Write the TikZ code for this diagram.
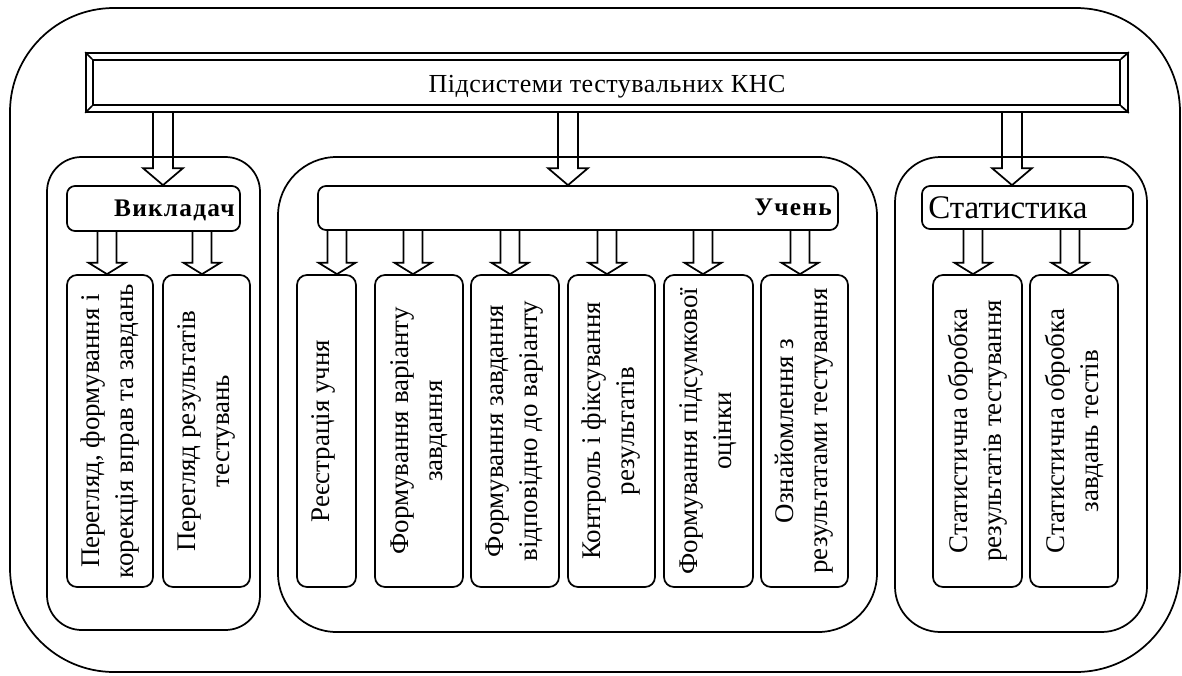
\documentclass[tikz,border=0pt]{standalone}
\usepackage{fontspec}
\setmainfont{Liberation Serif}
\newfontfamily\headfont[LetterSpace=2]{Liberation Serif}
\newfontfamily\rolefont[LetterSpace=5]{Liberation Serif}
\usepackage{graphicx}
\usetikzlibrary{fit,calc}

\newcommand\vtext[1]{\rotatebox{90}{\parbox{300pt}{\centering\fontsize{20.2pt}{25.5pt}\selectfont #1}}}
% block arrow: from, to, shaft half width, head half width, head length
\newcommand\blockarrow[5]{%
  \draw[ln] let \p1=(#1), \p2=(#2) in
    (\x1-#3,\y1) -- (\x1-#3,\y2+#5) -- (\x1-#4,\y2+#5) -- (\x1,\y2)
    -- (\x1+#4,\y2+#5) -- (\x1+#3,\y2+#5) -- (\x1+#3,\y1);}

\tikzset{
  ln/.style={line width=1.3pt},
  frame/.style={ln, draw, inner sep=0pt},
  bigbox/.style={frame, rounded corners=#1},
  item/.style={frame, rounded corners=7.5pt},
  head/.style={frame, rounded corners=6pt},
  txt/.style={inner sep=0pt, anchor=center},
  role/.style={anchor=base east, inner sep=0pt, font={\rolefont\bfseries\fontsize{19pt}{22pt}\selectfont}},
}

\begin{document}
\begin{tikzpicture}[x=0.75pt,y=-0.75pt,line join=miter]
\useasboundingbox (0,0) rectangle (1182,675);

% outer frame
\node[bigbox=78pt, fit={(10,8)(1180,672)}] (outer) {};

% top bevelled bar
\node[frame, fit={(86,53)(1128,112)}] (bar) {};
\node[frame, fit={(93,60)(1120,105)}] (bari) {};
\node[anchor=base, inner sep=0pt, font={\headfont\fontsize{19.5pt}{22pt}\selectfont}] (bart) at (607,92) {Підсистеми тестувальних КНС};
\draw[ln] (bar.north west) -- (bari.north west);
\draw[ln] (bar.north east) -- (bari.north east);
\draw[ln] (bar.south west) -- (bari.south west);
\draw[ln] (bar.south east) -- (bari.south east);

% group frames
\node[bigbox=26pt, fit={(47,157)(260,630)}] (vyk) {};
\node[bigbox=44pt, fit={(278,157)(877,632)}] (uch) {};
\node[bigbox=34pt, fit={(895,157)(1147,632)}] (stat) {};

% headers
\node[head, fit={(67,186)(240,231)}] (vh) {};
\node[role] (vht) at (235,216) {Викладач};
\node[head, fit={(318,186)(838,230)}] (uh) {};
\node[role] (uht) at (832,215) {Учень};
\node[head, fit={(922,186)(1133,229)}] (sh) {};
\node[anchor=base west, inner sep=0pt, font={\fontsize{24.75pt}{28pt}\selectfont}] (sht) at (928,218) {Статистика};

% main arrows
\coordinate (m1) at (163,0);
\coordinate (m2) at (568,0);
\coordinate (m3) at (1012,0);
\blockarrow{m1 |- bar.south}{m1 |- vh.north}{7.5pt}{15pt}{12.75pt}
\blockarrow{m2 |- bar.south}{m2 |- uh.north}{7.5pt}{15pt}{12.75pt}
\blockarrow{m3 |- bar.south}{m3 |- sh.north}{7.5pt}{15pt}{12.75pt}

% item boxes
\node[item, fit={(67,275)(153,587)}] (v1) {};
\node[item, fit={(163,275)(250,587)}] (v2) {};
\node[item, fit={(297,275)(356,587)}] (u1) {};
\node[item, fit={(375,275)(463,587)}] (u2) {};
\node[item, fit={(471,275)(559,587)}] (u3) {};
\node[item, fit={(568,275)(655,587)}] (u4) {};
\node[item, fit={(664,275)(753,587)}] (u5) {};
\node[item, fit={(761,275)(848,587)}] (u6) {};
\node[item, fit={(933,275)(1022,587)}] (s1) {};
\node[item, fit={(1030,275)(1118,587)}] (s2) {};

\node[txt] (v1t) at (v1.center) {\vtext{Перегляд, формування і\\корекція вправ та завдань}};
\node[txt] (v2t) at (v2.center) {\vtext{Перегляд результатів\\тестувань}};
\node[txt] (u1t) at ($(u1.center)+(-3,0)$) {\vtext{Реєстрація учня}};
\node[txt] (u2t) at (u2.center) {\vtext{Формування варіанту\\завдання}};
\node[txt] (u3t) at (u3.center) {\vtext{Формування завдання\\відповідно до варіанту}};
\node[txt] (u4t) at (u4.center) {\vtext{Контроль і фіксування\\результатів}};
\node[txt] (u5t) at (u5.center) {\vtext{Формування підсумкової\\оцінки}};
\node[txt] (u6t) at (u6.center) {\vtext{Ознайомлення з\\результатами тестування}};
\node[txt] (s1t) at (s1.center) {\vtext{Статистична обробка\\результатів тестування}};
\node[txt] (s2t) at (s2.center) {\vtext{Статистична обробка\\завдань тестів}};

% small arrows
\foreach \x/\h/\b in {107/vh/v1, 202/vh/v2, 337/uh/u1, 413/uh/u2, 510/uh/u3, 607/uh/u4, 703/uh/u5, 800/uh/u6, 973/sh/s1, 1070/sh/s2}{
  \coordinate (p) at (\x,0);
  \blockarrow{p |- \h.south}{p |- \b.north}{7.2pt}{13.8pt}{8.5pt}
}
\end{tikzpicture}
\end{document}
